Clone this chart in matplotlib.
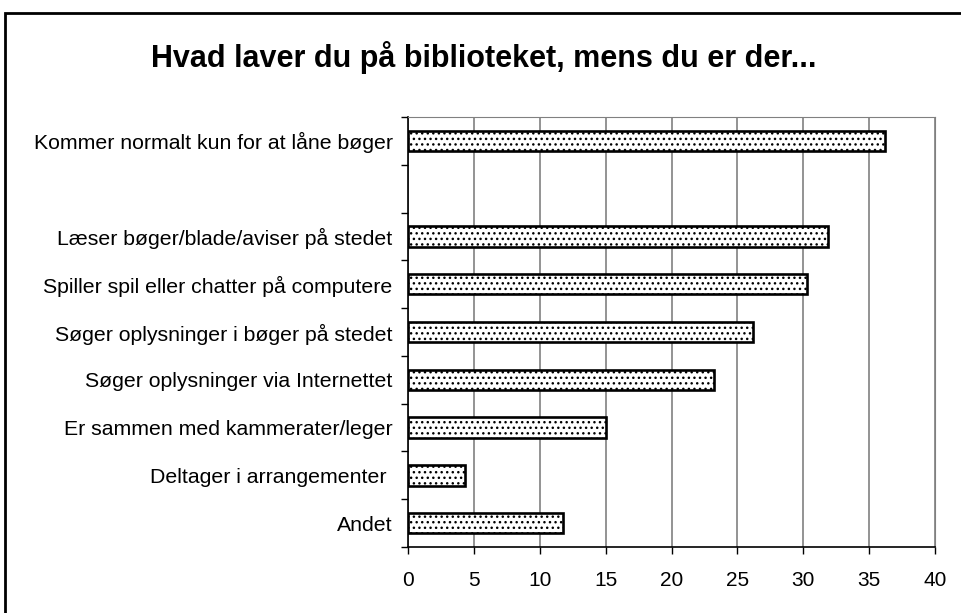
import matplotlib.pyplot as plt
from matplotlib.patches import Rectangle

# data (top to bottom, blank row kept as a gap)
categories = ["Kommer normalt kun for at låne bøger", "",
              "Læser bøger/blade/aviser på stedet",
              "Spiller spil eller chatter på computere",
              "Søger oplysninger i bøger på stedet",
              "Søger oplysninger via Internettet",
              "Er sammen med kammerater/leger",
              "Deltager i arrangementer ",
              "Andet"]
values = [36.2, 0, 31.9, 30.3, 26.2, 23.2, 15.0, 4.3, 11.8]
xticks = [0, 5, 10, 15, 20, 25, 30, 35, 40]

plt.rcParams['font.family'] = ['Liberation Sans', 'DejaVu Sans']
plt.rcParams['hatch.color'] = '#444444'
plt.rcParams['hatch.linewidth'] = 1.0

fig = plt.figure(figsize=(9.62, 6.13), dpi=100)
ax = fig.add_axes([408 / 962, 1 - 547 / 613, (935 - 408) / 962, (547 - 117) / 613])

n = len(categories)
ypos = list(range(n))
bars = ax.barh([y for y, v in zip(ypos, values) if v > 0],
               [v for v in values if v > 0],
               height=0.43, color='white', edgecolor='black',
               linewidth=1.9, hatch='...', zorder=3)

ax.set_ylim(n - 0.5, -0.5)
ax.set_xlim(0, 40)
ax.set_xticks(xticks)
ax.set_xticklabels([str(t) for t in xticks], fontsize=15)

# category labels in slot centres, tick marks on slot borders
ax.set_yticks(ypos)
ax.set_yticklabels(categories, fontsize=15.3)
ax.tick_params(axis='y', length=0, pad=11)
ax.set_yticks([y - 0.5 for y in range(n + 1)], minor=True)
ax.tick_params(axis='y', which='minor', length=5, width=1, color='black')
ax.tick_params(axis='x', length=5, width=1, pad=12)

ax.grid(axis='x', color='#808080', linewidth=1.2, zorder=0)
ax.spines['left'].set_color('black')
ax.spines['bottom'].set_color('black')
ax.spines['left'].set_linewidth(1.2)
ax.spines['bottom'].set_linewidth(1.2)
ax.spines['top'].set_color('#808080')
ax.spines['right'].set_color('#808080')

fig.text(484 / 962, 1 - 58 / 613, "Hvad laver du på biblioteket, mens du er der...",
         ha='center', va='center', fontsize=22, fontweight='bold')

# outer chart frame, partly cut off at right and bottom
fig.patches.append(Rectangle((5 / 962, -0.05), 1.0, 1 - 13 / 613 + 0.05,
                             transform=fig.transFigure, fill=False,
                             edgecolor='black', linewidth=2))

fig.savefig('out.png', dpi=100)
